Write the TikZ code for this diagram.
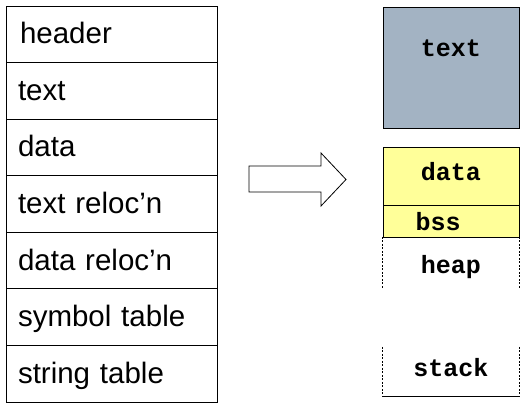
\documentclass[tikz,border=0pt]{standalone}
\usepackage{fontspec}
\newfontfamily\sansf{Liberation Sans}
\newfontfamily\monof{Liberation Mono}
\definecolor{segblue}{HTML}{A3B3C3}
\definecolor{segyellow}{HTML}{FFFF99}
\tikzset{
  cell/.style={draw, line width=0.8pt, minimum width=211pt, minimum height=56.57pt,
    text width=187pt, align=left, inner xsep=12pt, font=\sansf\fontsize{29.5}{31}\selectfont,
    text height=22pt, text depth=3pt},
  seg/.style={draw, line width=0.8pt, minimum width=136pt, inner sep=0pt,
    font=\monof\bfseries\fontsize{25}{27}\selectfont, text height=12pt, text depth=3pt},
  openseg/.style={minimum width=136pt, inner sep=0pt,
    font=\monof\bfseries\fontsize{25}{27}\selectfont, text height=12pt, text depth=3pt},
  dashedge/.style={line width=0.8pt, dash pattern=on 2pt off 1.5pt},
  bigarrow/.style={draw, line width=0.8pt, fill=white, line join=miter}
}
\begin{document}
\begin{tikzpicture}[x=1pt,y=-1pt]
\useasboundingbox (0,0) rectangle (525,406);
% left: object file layout
\node[cell] (hdr) at (111.5,34.3) {\hspace*{2pt}header};
\node[cell] (txt) at (111.5,90.85) {text};
\node[cell] (dat) at (111.5,147.4) {data};
\node[cell] (trel) at (111.5,203.98) {text reloc’n};
\node[cell] (drel) at (111.5,260.55) {data reloc’n};
\node[cell] (sym) at (111.5,317.1) {symbol table};
\node[cell] (str) at (111.5,373.7) {string table};
% arrow
\coordinate (a1) at (249,166);
\coordinate (a2) at (321,166);
\coordinate (a3) at (321,153);
\coordinate (a4) at (346,179.5);
\coordinate (a5) at (321,206);
\coordinate (a6) at (321,192);
\coordinate (a7) at (249,192);
\draw[bigarrow] (a1) -- (a2) -- (a3) -- (a4) -- (a5) -- (a6) -- (a7) -- cycle;
% right: process memory layout
\node[seg, fill=segblue, minimum height=121pt, text height=20pt, text depth=42pt] (tseg) at (451,67.5) {text};
\node[seg, fill=segyellow, minimum height=58pt] (dseg) at (451,176) {data};
\node[seg, fill=segyellow, minimum height=32pt, text height=22pt] (bseg) at (451,221) {\hspace*{-26pt}bss};
\node[openseg, minimum height=51pt, text height=24pt] (hseg) at (451,262.5) {heap};
\node[openseg, minimum height=49pt] (sseg) at (451,371.5) {stack};
\draw[dashedge] (hseg.north west) -- (hseg.south west);
\draw[dashedge] (hseg.north east) -- (hseg.south east);
\draw[dashedge] (sseg.north west) -- (sseg.south west);
\draw[dashedge] (sseg.north east) -- (sseg.south east);
\draw[line width=0.8pt] (sseg.south west) -- (sseg.south east);
\end{tikzpicture}
\end{document}
